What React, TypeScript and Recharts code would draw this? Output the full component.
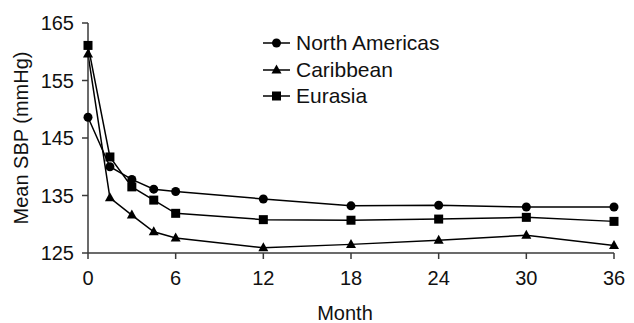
import { LineChart, Line, XAxis, YAxis } from 'recharts'

const months = [0, 1.5, 3, 4.5, 6, 12, 18, 24, 30, 36]
const northAmericas = [148.6, 140.0, 137.8, 136.1, 135.7, 134.4, 133.2, 133.3, 133.0, 133.0]
const caribbean = [159.6, 134.6, 131.6, 128.7, 127.6, 125.9, 126.5, 127.2, 128.1, 126.3]
const eurasia = [161.1, 141.7, 136.5, 134.2, 131.9, 130.8, 130.7, 130.9, 131.2, 130.5]
const xTicks = [0, 6, 12, 18, 24, 30, 36]
const yTicks = [125, 135, 145, 155, 165]

const data = months.map((m, i) => ({
  month: m,
  na: northAmericas[i],
  car: caribbean[i],
  eur: eurasia[i],
}))

const FONT = '"Liberation Sans", Arial, sans-serif'
const AXIS = '#3a3a3a'

type Shape = 'circle' | 'triangle' | 'square'

function Marker({ shape, cx, cy }: { shape: Shape; cx: number; cy: number }) {
  if (shape === 'circle') return <circle cx={cx} cy={cy} r={4.5} fill="#000" />
  if (shape === 'square') return <rect x={cx - 4.5} y={cy - 4.5} width={9} height={9} fill="#000" />
  return <polygon points={`${cx},${cy - 5.5} ${cx + 5},${cy + 3.5} ${cx - 5},${cy + 3.5}`} fill="#000" />
}

const dotFor = (shape: Shape) => (props: any) => {
  const { cx, cy, index } = props
  if (cx == null || cy == null) return <g key={index} />
  return <Marker key={index} shape={shape} cx={cx} cy={cy} />
}

const legendItems: { name: string; shape: Shape }[] = [
  { name: 'North Americas', shape: 'circle' },
  { name: 'Caribbean', shape: 'triangle' },
  { name: 'Eurasia', shape: 'square' },
]

function LegendBox() {
  return (
    <div style={{ position: 'absolute', left: 263, top: 30, fontFamily: FONT, fontSize: 21, color: '#111' }}>
      {legendItems.map((it) => (
        <div key={it.name} style={{ display: 'flex', alignItems: 'center', height: 26.5 }}>
          <svg width={30} height={14} style={{ marginRight: 3 }}>
            <line x1={0} y1={7} x2={27} y2={7} stroke="#000" strokeWidth={1.5} />
            <Marker shape={it.shape} cx={13.5} cy={7} />
          </svg>
          <span>{it.name}</span>
        </div>
      ))}
    </div>
  )
}

export default function App() {
  return (
    <div style={{ position: 'absolute', left: 0, top: 0, width: 634, height: 323, background: '#fff' }}>
      <LineChart width={634} height={323} data={data} margin={{ top: 23, right: 20, bottom: 0, left: 0 }}>
        <XAxis
          dataKey="month"
          type="number"
          domain={[0, 36]}
          ticks={xTicks}
          stroke={AXIS}
          strokeWidth={1.5}
          tickSize={6}
          tickMargin={12}
          height={70}
          tick={{ fill: '#111', fontSize: 20, fontFamily: FONT }}
          label={{ value: 'Month', position: 'insideBottom', offset: 3, dx: -6, fill: '#111', fontSize: 20, fontFamily: FONT }}
        />
        <YAxis
          type="number"
          domain={[125, 165]}
          ticks={yTicks}
          stroke={AXIS}
          strokeWidth={1.5}
          tickSize={6}
          tickMargin={8}
          width={88}
          tick={{ fill: '#111', fontSize: 20, fontFamily: FONT }}
          label={{
            value: 'Mean SBP (mmHg)',
            angle: -90,
            position: 'insideLeft',
            offset: 21,
            style: { textAnchor: 'middle' },
            fill: '#111',
            fontSize: 20,
            fontFamily: FONT,
          }}
        />
        <Line dataKey="na" stroke="#000" strokeWidth={1.5} dot={dotFor('circle')} isAnimationActive={false} />
        <Line dataKey="car" stroke="#000" strokeWidth={1.5} dot={dotFor('triangle')} isAnimationActive={false} />
        <Line dataKey="eur" stroke="#000" strokeWidth={1.5} dot={dotFor('square')} isAnimationActive={false} />
      </LineChart>
      <LegendBox />
    </div>
  )
}
